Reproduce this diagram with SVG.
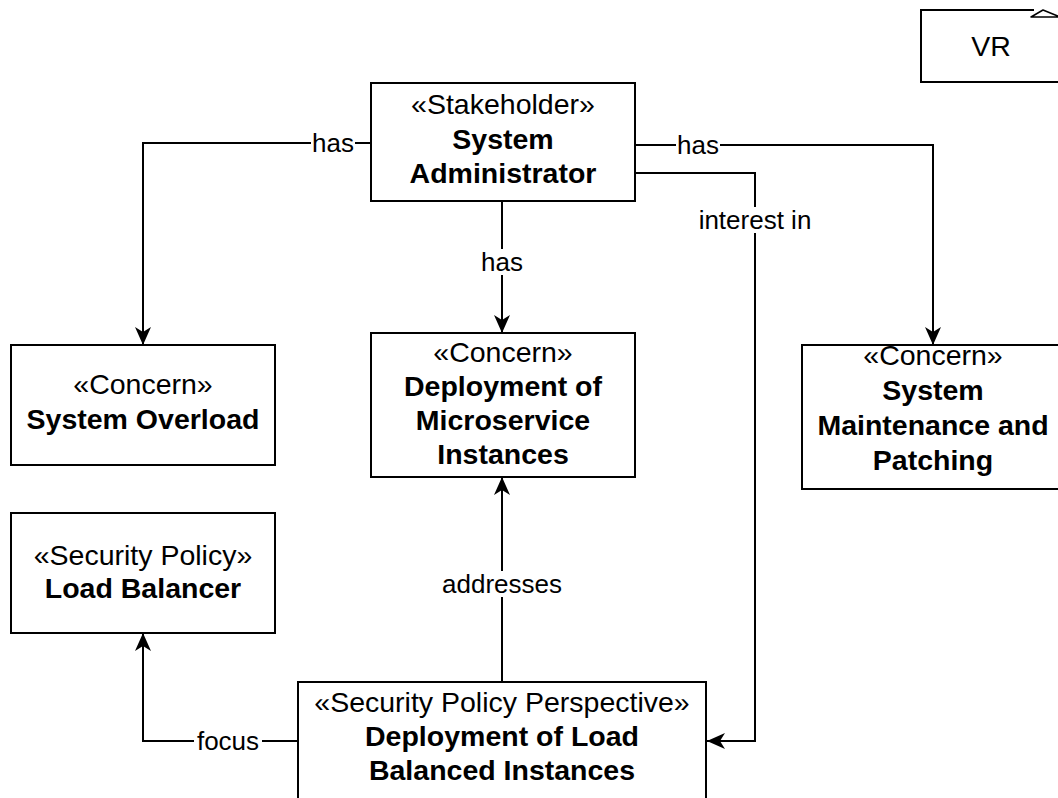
<svg xmlns="http://www.w3.org/2000/svg" width="1058" height="798" viewBox="0 0 1058 798">
  <style>
    .box { fill: #ffffff; stroke: #000000; stroke-width: 2; }
    .edge { fill: none; stroke: #000000; stroke-width: 2; }
    .st { font-family: "Liberation Sans", Arial, sans-serif; font-size: 28.5px; fill: #000000; text-anchor: middle; }
    .nm { font-family: "Liberation Sans", Arial, sans-serif; font-size: 28.5px; font-weight: bold; fill: #000000; text-anchor: middle; }
    .lbl { font-family: "Liberation Sans", Arial, sans-serif; font-size: 26px; fill: #000000; text-anchor: middle; dominant-baseline: central; }
    .lblbg { fill: #ffffff; }
  </style>
  <defs>
    <marker id="arrow" viewBox="0 0 18 16" refX="18" refY="8" markerWidth="18" markerHeight="16" markerUnits="userSpaceOnUse" orient="auto">
      <path d="M0,0 L18,8 L0,16 L5,8 Z" fill="#000000"/>
    </marker>
  </defs>
  <rect width="1058" height="798" fill="#ffffff"/>

  <g id="connectors">
    <!-- has: administrator to system overload -->
    <path class="edge" d="M371,143 L143,143 L143,345" marker-end="url(#arrow)"/>
    <!-- has: administrator to maintenance -->
    <path class="edge" d="M635,145 L933,145 L933,345" marker-end="url(#arrow)"/>
    <!-- has: administrator to microservice deployment -->
    <path class="edge" d="M502,201 L502,333" marker-end="url(#arrow)"/>
    <!-- interest in -->
    <path class="edge" d="M635,173 L755,173 L755,741 L707,741" marker-end="url(#arrow)"/>
    <!-- addresses -->
    <path class="edge" d="M502,682 L502,477" marker-end="url(#arrow)"/>
    <!-- focus -->
    <path class="edge" d="M298,741 L143,741 L143,633" marker-end="url(#arrow)"/>

    <rect class="lblbg" x="311" y="130" width="44" height="26"/>
    <text class="lbl" x="333" y="143">has</text>
    <rect class="lblbg" x="676" y="132" width="44" height="26"/>
    <text class="lbl" x="698" y="145">has</text>
    <rect class="lblbg" x="480" y="249" width="44" height="26"/>
    <text class="lbl" x="502" y="262">has</text>
    <rect class="lblbg" x="694" y="207" width="122" height="26"/>
    <text class="lbl" x="755" y="220">interest in</text>
    <rect class="lblbg" x="440" y="571" width="124" height="26"/>
    <text class="lbl" x="502" y="584">addresses</text>
    <rect class="lblbg" x="194" y="728" width="68" height="26"/>
    <text class="lbl" x="228" y="741">focus</text>
  </g>

  <g id="vr">
    <rect fill="#ffffff" x="921" y="10" width="145" height="72"/>
    <path class="edge" d="M1060,82 L921,82 L921,10 L1034,10"/>
    <path d="M1031,17 L1043,10 L1060,17 Z" fill="#ffffff" stroke="#000000" stroke-width="1.5" stroke-linejoin="round"/>
    <text class="st" x="991" y="56">VR</text>
  </g>

  <g id="system-administrator">
    <rect class="box" x="371" y="83" width="264" height="118"/>
    <text class="st" x="503" y="114">«Stakeholder»</text>
    <text class="nm" x="503" y="149">System</text>
    <text class="nm" x="503" y="183">Administrator</text>
  </g>

  <g id="system-overload">
    <rect class="box" x="11" y="345" width="264" height="120"/>
    <text class="st" x="143" y="394">«Concern»</text>
    <text class="nm" x="143" y="429">System Overload</text>
  </g>

  <g id="microservice-deployment">
    <rect class="box" x="371" y="333" width="264" height="144"/>
    <text class="st" x="503" y="362">«Concern»</text>
    <text class="nm" x="503" y="396">Deployment of</text>
    <text class="nm" x="503" y="430">Microservice</text>
    <text class="nm" x="503" y="464">Instances</text>
  </g>

  <g id="system-maintenance">
    <rect class="box" x="802" y="345" width="270" height="144"/>
    <text class="st" x="933" y="365">«Concern»</text>
    <text class="nm" x="933" y="400">System</text>
    <text class="nm" x="933" y="435">Maintenance and</text>
    <text class="nm" x="933" y="470">Patching</text>
  </g>

  <g id="load-balancer">
    <rect class="box" x="11" y="513" width="264" height="120"/>
    <text class="st" x="143" y="565">«Security Policy»</text>
    <text class="nm" x="143" y="598">Load Balancer</text>
  </g>

  <g id="load-balanced-deployment">
    <rect class="box" x="298" y="682" width="408" height="140"/>
    <text class="st" x="502" y="712">«Security Policy Perspective»</text>
    <text class="nm" x="502" y="746">Deployment of Load</text>
    <text class="nm" x="502" y="780">Balanced Instances</text>
  </g>
</svg>
